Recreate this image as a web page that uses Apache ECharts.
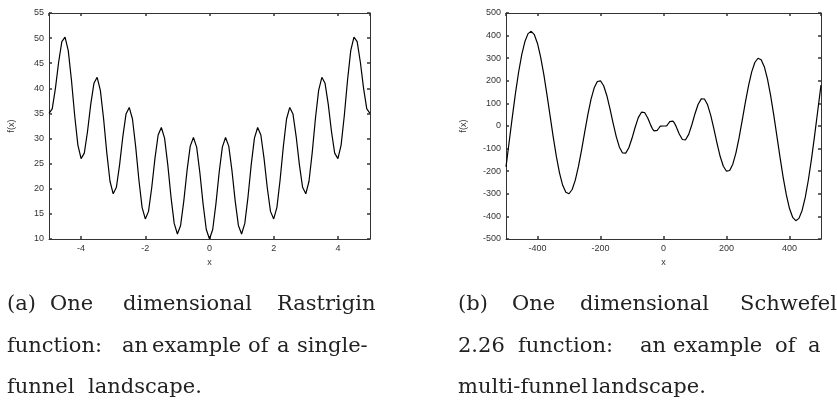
<!DOCTYPE html>
<html>
<head>
<meta charset="utf-8">
<script src="https://cdn.jsdelivr.net/npm/echarts@6/dist/echarts.min.js"></script>
<style>
  html, body { margin: 0; padding: 0; background: #fff; }
  #chart { width: 837px; height: 405px; }
</style>
</head>
<body>
<div id="chart"></div>
<script>
// (a) Rastrigin, sampled on [-5, 5]
const rastX = [
  -5.0, -4.9, -4.8, -4.7, -4.6, -4.5, -4.4, -4.3, -4.2, -4.1,
  -4.0, -3.9, -3.8, -3.7, -3.6, -3.5, -3.4, -3.3, -3.2, -3.1,
  -3.0, -2.9, -2.8, -2.7, -2.6, -2.5, -2.4, -2.3, -2.2, -2.1,
  -2.0, -1.9, -1.8, -1.7, -1.6, -1.5, -1.4, -1.3, -1.2, -1.1,
  -1.0, -0.9, -0.8, -0.7, -0.6, -0.5, -0.4, -0.3, -0.2, -0.1,
  0.0, 0.1, 0.2, 0.3, 0.4, 0.5, 0.6, 0.7, 0.8, 0.9,
  1.0, 1.1, 1.2, 1.3, 1.4, 1.5, 1.6, 1.7, 1.8, 1.9,
  2.0, 2.1, 2.2, 2.3, 2.4, 2.5, 2.6, 2.7, 2.8, 2.9,
  3.0, 3.1, 3.2, 3.3, 3.4, 3.5, 3.6, 3.7, 3.8, 3.9,
  4.0, 4.1, 4.2, 4.3, 4.4, 4.5, 4.6, 4.7, 4.8, 4.9,
  5.0
]
const rastY = [
  35.0, 35.9, 40.0, 45.2, 49.3, 50.2, 47.5, 41.6, 34.6, 28.7,
  26.0, 27.1, 31.4, 36.8, 41.0, 42.2, 39.6, 34.0, 27.2, 21.5,
  19.0, 20.3, 24.8, 30.4, 34.9, 36.2, 33.9, 28.4, 21.8, 16.3,
  14.0, 15.5, 20.2, 26.0, 30.7, 32.2, 30.1, 24.8, 18.4, 13.1,
  11.0, 12.7, 17.6, 23.6, 28.5, 30.2, 28.3, 23.2, 17.0, 11.9,
  10.0, 11.9, 17.0, 23.2, 28.3, 30.2, 28.5, 23.6, 17.6, 12.7,
  11.0, 13.1, 18.4, 24.8, 30.1, 32.2, 30.7, 26.0, 20.2, 15.5,
  14.0, 16.3, 21.8, 28.4, 33.9, 36.2, 34.9, 30.4, 24.8, 20.3,
  19.0, 21.5, 27.2, 34.0, 39.6, 42.2, 41.0, 36.8, 31.4, 27.1,
  26.0, 28.7, 34.6, 41.6, 47.5, 50.2, 49.3, 45.2, 40.0, 35.9,
  35.0
]

// (b) Schwefel 2.26, sampled on [-500, 500]
const schwX = [
  -500, -490, -480, -470, -460, -450, -440, -430, -420, -410,
  -400, -390, -380, -370, -360, -350, -340, -330, -320, -310,
  -300, -290, -280, -270, -260, -250, -240, -230, -220, -210,
  -200, -190, -180, -170, -160, -150, -140, -130, -120, -110,
  -100, -90, -80, -70, -60, -50, -45, -40, -35, -30,
  -25, -20, -15, -10, -5, 0, 5, 10, 15, 20,
  25, 30, 35, 40, 45, 50, 60, 70, 80, 90,
  100, 110, 120, 130, 140, 150, 160, 170, 180, 190,
  200, 210, 220, 230, 240, 250, 260, 270, 280, 290,
  300, 310, 320, 330, 340, 350, 360, 370, 380, 390,
  400, 410, 420, 430, 440, 450, 460, 470, 480, 490,
  500
]
const schwY = [
  -180.6, -70.7, 39.5, 144.1, 237.9, 315.9, 373.7, 408.7, 418.9, 404.0,
  365.2, 305.2, 228.2, 139.2, 44.6, -49.3, -135.7, -208.5, -262.4, -293.4,
  -299.8, -281.0, -239.3, -178.8, -105.2, -25.8, 51.5, 118.7, 168.9, 196.9,
  200.0, 178.2, 135.2, 77.3, 13.2, -47.0, -93.8, -119.4, -119.9, -96.1,
  -54.4, -5.6, 37.0, 61.0, 59.7, 35.4, 18.6, 1.7, -12.6, -21.7,
  -24.0, -19.4, -10.0, -0.2, 3.9, 0.0, -3.9, 0.2, 10.0, 19.4,
  24.0, 21.7, 12.6, -1.7, -18.6, -35.4, -59.7, -61.0, -37.0, 5.6,
  54.4, 96.1, 119.9, 119.4, 93.8, 47.0, -13.2, -77.3, -135.2, -178.2,
  -200.0, -196.9, -168.9, -118.7, -51.5, 25.8, 105.2, 178.8, 239.3, 281.0,
  299.8, 293.4, 262.4, 208.5, 135.7, 49.3, -44.6, -139.2, -228.2, -305.2,
  -365.2, -404.0, -418.9, -408.7, -373.7, -315.9, -237.9, -144.1, -39.5, 70.7,
  180.6
]

// caption words: [text, left x, line]
const captionA = [
  ['(a)', 7, 0], ['One', 50, 0], ['dimensional', 123, 0], ['Rastrigin', 277, 0],
  ['function:', 7, 1], ['an', 122, 1], ['example', 152, 1], ['of', 248, 1], ['a', 277, 1], ['single-', 297, 1],
  ['funnel', 7, 2], ['landscape.', 88, 2]
]
const captionB = [
  ['(b)', 458, 0], ['One', 512, 0], ['dimensional', 580, 0], ['Schwefel', 740, 0],
  ['2.26', 458, 1], ['function:', 518, 1], ['an', 640, 1], ['example', 673, 1], ['of', 775, 1], ['a', 808, 1],
  ['multi-funnel', 458, 2], ['landscape.', 592, 2]
]
const captionBaselines = [315, 357, 398]

const frameColor = '#333'
const labelFont = { color: '#333', fontSize: 9, fontFamily: 'Liberation Sans, Arial, sans-serif' }
const tickStyle = { show: true, inside: true, length: 3, lineStyle: { color: frameColor, width: 1.5 } }
const lineStyle = { show: true, onZero: false, lineStyle: { color: frameColor, width: 1 } }

function zip(xs, ys) {
  return xs.map((x, i) => [x, ys[i]])
}

function mainX(gridIndex, min, max) {
  return {
    type: 'value', gridIndex, min, max, splitNumber: 5,
    name: 'x', nameLocation: 'middle', nameGap: 15,
    nameTextStyle: labelFont,
    axisLine: lineStyle,
    axisTick: tickStyle,
    axisLabel: Object.assign({ margin: 5, showMinLabel: false, showMaxLabel: false }, labelFont),
    splitLine: { show: false }
  }
}
function mirrorX(gridIndex, min, max) {
  return {
    type: 'value', gridIndex, min, max, splitNumber: 5, position: 'top',
    axisLine: lineStyle,
    axisTick: tickStyle,
    axisLabel: { show: false },
    splitLine: { show: false }
  }
}
function mainY(gridIndex, min, max, interval, gap) {
  return {
    type: 'value', gridIndex, min, max, interval,
    name: 'f(x)', nameLocation: 'middle', nameGap: gap, nameRotate: 90,
    nameTextStyle: labelFont,
    axisLine: lineStyle,
    axisTick: tickStyle,
    axisLabel: Object.assign({ margin: 5 }, labelFont),
    splitLine: { show: false }
  }
}
function mirrorY(gridIndex, min, max, interval) {
  return {
    type: 'value', gridIndex, min, max, interval, position: 'right',
    axisLine: lineStyle,
    axisTick: tickStyle,
    axisLabel: { show: false },
    splitLine: { show: false }
  }
}

function captionText(words) {
  return words.map(([text, x, line]) => ({
    type: 'text',
    x,
    y: captionBaselines[line],
    style: {
      text,
      fill: '#222',
      font: '21px "DejaVu Serif", serif',
      textAlign: 'left',
      textVerticalAlign: 'bottom'
    }
  }))
}

const chart = echarts.init(document.getElementById('chart'), null, { renderer: 'canvas' })

chart.setOption({
  backgroundColor: '#fff',
  animation: false,
  grid: [
    { left: 49, top: 13, width: 321, height: 226 },
    { left: 506, top: 13, width: 315, height: 226 }
  ],
  xAxis: [
    mainX(0, -5, 5),
    mirrorX(0, -5, 5),
    mainX(1, -500, 500),
    mirrorX(1, -500, 500)
  ],
  yAxis: [
    mainY(0, 10, 55, 5, 33),
    mirrorY(0, 10, 55, 5),
    mainY(1, -500, 500, 100, 38),
    mirrorY(1, -500, 500, 100)
  ],
  series: [
    {
      type: 'line', xAxisIndex: 0, yAxisIndex: 0,
      data: zip(rastX, rastY),
      showSymbol: false, smooth: false,
      lineStyle: { color: '#000', width: 1.2 }
    },
    {
      type: 'line', xAxisIndex: 2, yAxisIndex: 2,
      data: zip(schwX, schwY),
      showSymbol: false, smooth: false,
      lineStyle: { color: '#000', width: 1.2 }
    }
  ],
  graphic: captionText(captionA).concat(captionText(captionB))
})
</script>
</body>
</html>
